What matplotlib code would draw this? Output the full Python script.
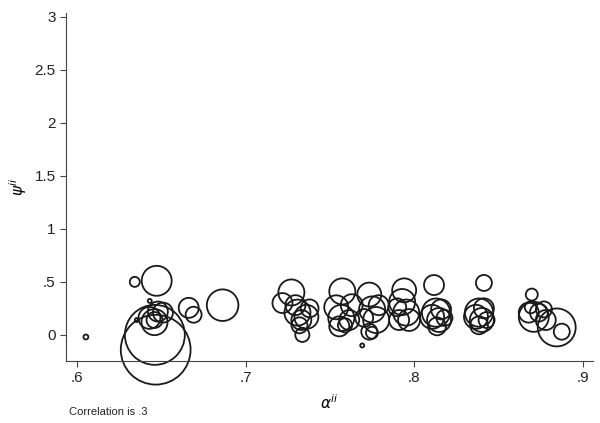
import matplotlib
matplotlib.use('Agg')
from matplotlib import pyplot as plt

# bubble data: alpha (x), psi (y), weight (bubble area)
alpha = [0.6053, 0.6343, 0.6473, 0.6432, 0.6467, 0.6462, 0.6460, 0.6460, 0.6480, 0.6510, 0.6355, 0.6430,
         0.6663, 0.6692, 0.6864,
         0.7272, 0.7219, 0.7308, 0.7361, 0.7331, 0.7337, 0.7296, 0.7320, 0.7380,
         0.7574, 0.7538, 0.7568, 0.7615, 0.7556, 0.7630, 0.7590,
         0.7734, 0.7751, 0.7775, 0.7734, 0.7692, 0.7790, 0.7704, 0.7750,
         0.7941, 0.7929, 0.7953, 0.7911, 0.7970, 0.7900,
         0.8118, 0.8130, 0.8148, 0.8107, 0.8160, 0.8136, 0.8180,
         0.8414, 0.8385, 0.8402, 0.8367, 0.8414, 0.8385, 0.8430,
         0.8698, 0.8710, 0.8680, 0.8740, 0.8692, 0.8846, 0.8876, 0.8781, 0.8770]
psi = [-0.02, 0.50, 0.51, 0.32, -0.14, 0.00, 0.12, 0.14, 0.22, 0.21, 0.14, 0.16,
       0.255, 0.19, 0.28,
       0.40, 0.30, 0.21, 0.17, 0.14, 0.00, 0.28, 0.09, 0.25,
       0.41, 0.26, 0.16, 0.14, 0.08, 0.28, 0.09,
       0.38, 0.24, 0.14, 0.03, -0.10, 0.28, 0.16, 0.02,
       0.42, 0.31, 0.21, 0.14, 0.14, 0.26,
       0.47, 0.21, 0.14, 0.17, 0.24, 0.08, 0.16,
       0.49, 0.21, 0.14, 0.17, 0.25, 0.09, 0.14,
       0.38, 0.17, 0.21, 0.21, 0.26, 0.07, 0.03, 0.14, 0.24]
weight = [0.06, 0.25, 2.25, 0.04, 12.2, 9.0, 1.7, 0.64, 1.0, 1.0, 0.04, 1.2,
          1.0, 0.64, 2.5,
          1.7, 1.0, 1.7, 1.44, 1.0, 0.5, 1.0, 0.64, 0.8,
          1.7, 1.44, 1.7, 1.0, 1.0, 1.2, 0.5,
          1.44, 1.7, 1.7, 0.64, 0.04, 1.0, 0.8, 0.36,
          1.44, 1.7, 1.7, 1.0, 1.2, 0.8,
          1.0, 2.0, 1.44, 1.44, 1.0, 0.8, 0.64,
          0.64, 2.0, 1.44, 1.44, 1.0, 0.8, 0.64,
          0.36, 2.25, 1.0, 0.8, 0.36, 3.6, 0.64, 1.0, 0.64]

yticks = [0, 0.5, 1, 1.5, 2, 2.5, 3]
yticklabels = ['0', '.5', '1', '1.5', '2', '2.5', '3']
xticks = [0.6, 0.7, 0.8, 0.9]
xticklabels = ['.6', '.7', '.8', '.9']

plt.rcParams['font.family'] = ['Liberation Sans', 'DejaVu Sans']

fig = plt.figure(figsize=(6, 4.23), dpi=100)
ax = fig.add_axes([0.11, 0.147, 0.878, 0.823])

sizes = [w * 207 for w in weight]
ax.scatter(alpha, psi, s=sizes, facecolors='none', edgecolors='#1a1a1a', linewidths=1.3, clip_on=False)

ax.set_xlim(0.5935, 0.906)
ax.set_ylim(-0.245, 3.04)
ax.spines['right'].set_visible(False)
ax.spines['top'].set_visible(False)
ax.spines['left'].set_color('#444444')
ax.spines['bottom'].set_color('#444444')
ax.set_yticks(yticks)
ax.set_yticklabels(yticklabels)
ax.set_xticks(xticks)
ax.set_xticklabels(xticklabels)
ax.tick_params(direction='out', length=4, width=0.8, colors='#444444', labelcolor='#222222', labelsize=11)

ax.set_xlabel(r'$\alpha^{ii}$', fontsize=11, labelpad=6)
ax.set_ylabel(r'$\psi^{ii}$', fontsize=11, labelpad=4)

fig.text(0.115, 0.018, 'Correlation is .3', fontsize=8, color='#222222')

fig.savefig('out.png', dpi=100)
